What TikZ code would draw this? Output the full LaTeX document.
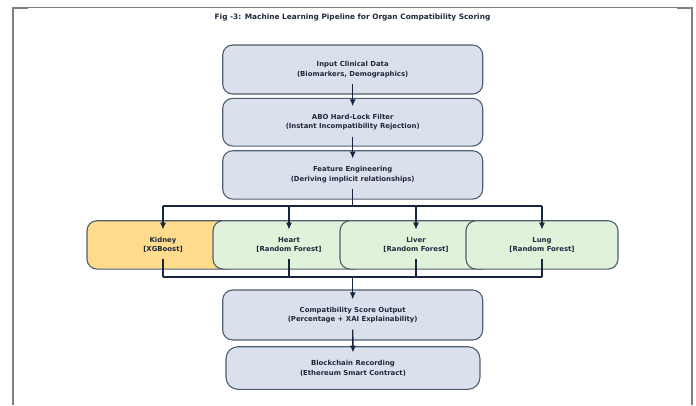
\documentclass[tikz,border=0pt]{standalone}
\usepackage{fontspec}
\setmainfont{DejaVu Sans}
\usetikzlibrary{arrows.meta}
\definecolor{boxfill}{RGB}{218,225,236}
\definecolor{kidfill}{RGB}{254,220,140}
\definecolor{grnfill}{RGB}{224,242,218}
\definecolor{edgec}{RGB}{78,94,112}
\definecolor{txtc}{RGB}{30,42,60}
\definecolor{arrc}{RGB}{22,38,62}
\definecolor{framec}{RGB}{128,128,128}
\tikzset{
  stage/.style={draw=edgec, line width=1.1pt, rounded corners=10pt, fill=boxfill,
    minimum width=260pt, minimum height=49pt, inner sep=0pt, align=center,
    text=txtc, font=\fontsize{6.9}{9.7}\selectfont\bfseries},
  organ/.style={stage, minimum width=152pt, minimum height=48.3pt, fill=grnfill},
  conn/.style={draw=arrc, line width=1.4pt},
  arr/.style={conn, -{Latex[length=7pt,width=6pt]}},
  framel/.style={draw=framec}
}
\begin{document}
\begin{tikzpicture}[x=1pt,y=-1pt]
\useasboundingbox (0,0) rectangle (696,405);
% frame
\draw[framel, line width=2pt] (12.5,405) -- (12.5,7.5);
\draw[framel, line width=1pt] (12.5,7.5) -- (692,7.5);
\draw[framel, line width=2pt] (11.5,8) -- (28,8);
\draw[framel, line width=2pt] (677,8) -- (692.5,8);
\draw[framel, line width=2pt] (692,7) -- (692,405);
% title
\node[text=txtc, font=\fontsize{7.4}{9}\selectfont\bfseries] (title) at (352.5,17) {Fig -3: Machine Learning Pipeline for Organ Compatibility Scoring};
% stages
\node[stage] (in) at (352.7,69.5) {Input Clinical Data\\(Biomarkers, Demographics)};
\node[stage, minimum height=47.7pt] (abo) at (352.7,122.2) {ABO Hard-Lock Filter\\(Instant Incompatibility Rejection)};
\node[stage, minimum height=48.3pt] (fe) at (352.7,174.9) {Feature Engineering\\(Deriving implicit relationships)};
% organs
\node[organ, fill=kidfill] (kid) at (163,244.9) {Kidney\\{[XGBoost]}};
\node[organ] (hea) at (289,244.9) {Heart\\{[Random Forest]}};
\node[organ] (liv) at (416,244.9) {Liver\\{[Random Forest]}};
\node[organ] (lun) at (542,244.9) {Lung\\{[Random Forest]}};
% outputs
\node[stage, minimum height=50pt] (co) at (352.7,315) {Compatibility Score Output\\(Percentage + XAI Explainability)};
\node[stage, minimum width=254pt, minimum height=42.6pt, rounded corners=12pt] (bc) at (353,368) {Blockchain Recording\\(Ethereum Smart Contract)};
% connectors
\draw[arr] ([yshift=11pt]in.south) -- ([yshift=-8.5pt]abo.north);
\draw[arr] ([yshift=10pt]abo.south) -- ([yshift=-8.5pt]fe.north);
\coordinate (bL) at (163,206);
\coordinate (bR) at (542,206);
\draw[conn] ([yshift=11pt]fe.south) -- (fe.south |- bL);
\draw[conn] (bL) -- (bR);
\draw[arr] (bL) -- ([yshift=-9.5pt]kid.north);
\draw[arr] (hea.north |- bL) -- ([yshift=-9.5pt]hea.north);
\draw[arr] (liv.north |- bL) -- ([yshift=-9.5pt]liv.north);
\draw[arr] (bR) -- ([yshift=-9.5pt]lun.north);
\coordinate (mL) at (163,277);
\coordinate (mR) at (542,277);
\draw[conn] ([yshift=11pt]kid.south) -- (mL);
\draw[conn] ([yshift=11pt]hea.south) -- (hea.south |- mL);
\draw[conn] ([yshift=11pt]liv.south) -- (liv.south |- mL);
\draw[conn] ([yshift=11pt]lun.south) -- (mR);
\draw[conn] (mL) -- (mR);
\draw[arr] (co.north |- mL) -- ([yshift=-10pt]co.north);
\draw[arr] ([yshift=11pt]co.south) -- ([yshift=-6.5pt]bc.north);
\end{tikzpicture}
\end{document}
